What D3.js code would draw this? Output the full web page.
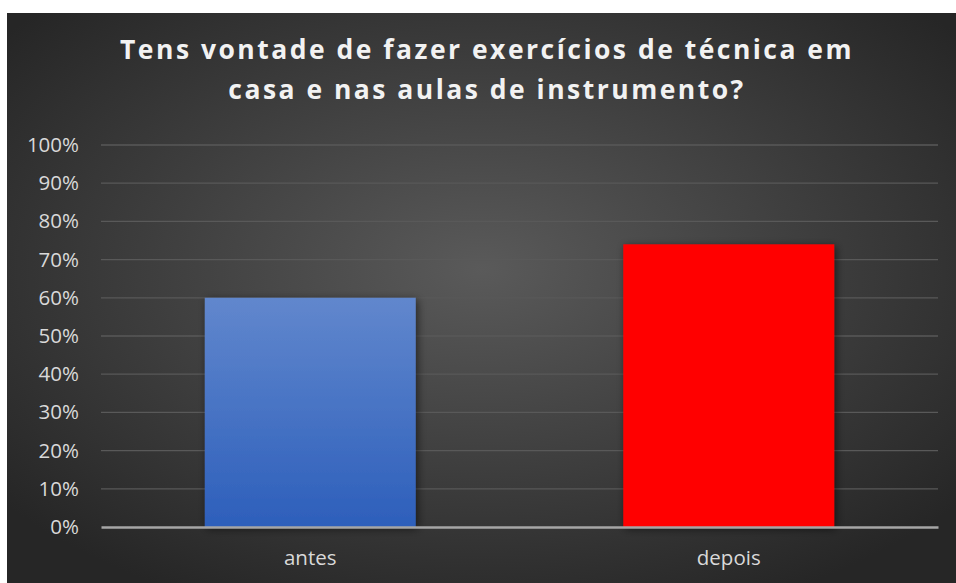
<!DOCTYPE html>
<html>
<head>
<meta charset="utf-8">
<script src="https://cdn.jsdelivr.net/npm/d3@7"></script>
<style>
  body { margin: 0; background: #fff; }
  svg text { font-family: "Open Sans", sans-serif; }
</style>
</head>
<body>
<script>
// chart data
var categories = ["antes", "depois"];
var values = [0.60, 0.74];
var barColors = ["blue", "red"];
var tickValues = [0, 0.1, 0.2, 0.3, 0.4, 0.5, 0.6, 0.7, 0.8, 0.9, 1.0];
var titleLines = ["Tens vontade de fazer exercícios de técnica em",
                  "casa e nas aulas de instrumento?"];

var svgWidth = 956;
var svgHeight = 583;

var margin = { top: 145, right: 18, bottom: 56, left: 101 };
var width = svgWidth - margin.left - margin.right;
var height = svgHeight - margin.top - margin.bottom;

var root = d3.select("body")
  .append("svg")
    .attr("width", svgWidth)
    .attr("height", svgHeight);

var defs = root.append("defs");

var bg = defs.append("radialGradient")
  .attr("id", "bg")
  .attr("cx", "50%").attr("cy", "45%").attr("r", "65%");
bg.append("stop").attr("offset", "0%").attr("stop-color", "#5a5a5a");
bg.append("stop").attr("offset", "100%").attr("stop-color", "#262626");

var blue = defs.append("linearGradient")
  .attr("id", "blue")
  .attr("x1", 0).attr("y1", 0).attr("x2", 0).attr("y2", 1);
blue.append("stop").attr("offset", "0%").attr("stop-color", "#6187cd");
blue.append("stop").attr("offset", "100%").attr("stop-color", "#2d5fbb");

var shadow = defs.append("filter")
  .attr("id", "shadow")
  .attr("x", "-20%").attr("y", "-20%").attr("width", "140%").attr("height", "140%");
shadow.append("feDropShadow")
  .attr("dx", 2).attr("dy", 2)
  .attr("stdDeviation", 4)
  .attr("flood-color", "#000")
  .attr("flood-opacity", 0.55);

// chart background
root.append("rect")
  .attr("x", 7)
  .attr("y", 13)
  .attr("width", svgWidth - 7)
  .attr("height", svgHeight - 13)
  .attr("fill", "url(#bg)");

// title
var title = root.append("text")
  .attr("text-anchor", "middle")
  .attr("fill", "#f2f2f2")
  .style("font-weight", "bold")
  .style("font-size", "26.5px");
title.selectAll("tspan")
  .data(titleLines)
  .enter()
  .append("tspan")
    .attr("x", 487)
    .attr("y", function(d, i) { return 59 + i * 40; })
    .text(function(d) { return d; });

// stretch spacing so the first line spans the same width as in the picture
var w0 = title.select("tspan").node().getComputedTextLength();
var spacing = (734 - w0) / titleLines[0].length;
title.style("letter-spacing", spacing + "px");

var svg = root.append("g")
  .attr("transform", "translate(" + margin.left + "," + margin.top + ")");

var y = d3.scaleLinear()
  .domain([0, 1])
  .range([height, 0]);

var x = d3.scaleBand()
  .domain(categories)
  .range([0, width])
  .paddingInner(0.496)
  .paddingOuter(0.248);

// gridlines
svg.append("g")
  .selectAll("line")
  .data(tickValues.filter(function(d) { return d > 0; }))
  .enter()
  .append("line")
    .attr("x1", 0)
    .attr("x2", width)
    .attr("y1", function(d) { return y(d); })
    .attr("y2", function(d) { return y(d); })
    .attr("stroke", "#595959")
    .attr("stroke-width", 1.3);

// y axis labels
var yAxis = svg.append("g")
  .call(d3.axisLeft(y).tickValues(tickValues).tickFormat(d3.format(".0%")).tickSize(0).tickPadding(22));
yAxis.select(".domain").remove();
yAxis.selectAll("text")
  .attr("fill", "#d9d9d9")
  .style("font-size", "20.5px");

// bars
svg.append("g")
  .selectAll("rect")
  .data(values)
  .enter()
  .append("rect")
    .attr("x", function(d, i) { return x(categories[i]); })
    .attr("y", function(d) { return y(d); })
    .attr("width", x.bandwidth())
    .attr("height", function(d) { return height - y(d); })
    .attr("fill", function(d, i) { return barColors[i] == "blue" ? "url(#blue)" : "#ff0000"; })
    .attr("filter", "url(#shadow)");

// x axis
var xAxis = svg.append("g")
  .attr("transform", "translate(0," + height + ")")
  .call(d3.axisBottom(x).tickSize(0).tickPadding(23));
xAxis.select(".domain")
  .attr("stroke", "#a6a6a6")
  .attr("stroke-width", 2.5);
xAxis.selectAll("text")
  .attr("fill", "#d9d9d9")
  .style("font-size", "20.5px");
</script>
</body>
</html>
